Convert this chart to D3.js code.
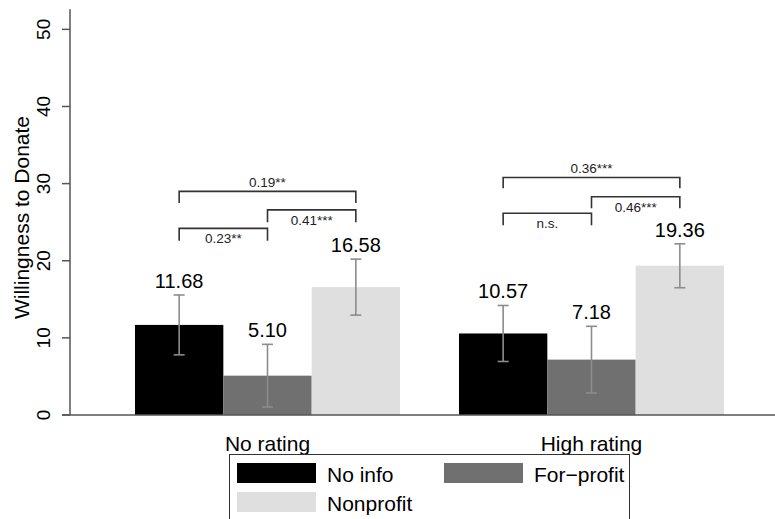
<!DOCTYPE html>
<html>
<head>
<meta charset="utf-8">
<script src="https://cdn.jsdelivr.net/npm/d3@7"></script>
<style>
  body { margin: 0; background: #fff; }
  text { font-family: "Liberation Sans", Arial, sans-serif; }
</style>
</head>
<body>
<div id="chart"></div>
<script>
// data
var groups = ["No rating", "High rating"];
var series = ["No info", "For\u2212profit", "Nonprofit"];
var colors = ["#000000", "#707070", "#dfdfdf"];

var means  = [[11.68, 5.10, 16.58], [10.57, 7.18, 19.36]];
var ciLow  = [[7.80, 1.04, 12.95], [6.94, 2.86, 16.50]];
var ciHigh = [[15.56, 9.16, 20.21], [14.20, 11.50, 22.20]];

var yTicks = [0, 10, 20, 30, 40, 50];

// significance brackets: [group, fromBar, toBar, lineLevel, legLevel, text, textAbove]
var brackets = [
    [0, 0, 2, 29.0, 27.5, "0.19**", true],
    [0, 1, 2, 26.6, 25.0, "0.41***", false],
    [0, 0, 1, 24.2, 22.6, "0.23**", false],
    [1, 0, 2, 30.8, 29.4, "0.36***", true],
    [1, 1, 2, 28.3, 26.8, "0.46***", false],
    [1, 0, 1, 26.15, 24.6, "n.s.", false]
];

var width = 775, height = 519;

var svg = d3.select("#chart").append("svg")
    .attr("width", width)
    .attr("height", height);

var xGroup = d3.scaleBand()
    .domain(d3.range(groups.length))
    .range([70, 789])
    .paddingInner(0.182)
    .paddingOuter(0.2006);

var xBar = d3.scaleBand()
    .domain(d3.range(series.length))
    .range([0, xGroup.bandwidth()]);

var yScale = d3.scaleLinear().domain([0, 52.6]).range([415, 9.3]);

function barCenter(g, s) {
    return xGroup(g) + xBar(s) + xBar.bandwidth() / 2;
}

//////////////////////////////////////////////////////////////////////////////
// bars

var cells = [];
groups.forEach(function(gName, g) {
    series.forEach(function(sName, s) {
        cells.push({g: g, s: s, v: means[g][s], lo: ciLow[g][s], hi: ciHigh[g][s]});
    });
});

svg.append("g")
    .selectAll("rect")
    .data(cells)
    .enter()
    .append("rect")
    .attr("x", function(d) { return xGroup(d.g) + xBar(d.s); })
    .attr("y", function(d) { return yScale(d.v); })
    .attr("width", xBar.bandwidth())
    .attr("height", function(d) { return yScale(0) - yScale(d.v); })
    .attr("fill", function(d) { return colors[d.s]; });

// error bars
var err = svg.append("g")
    .attr("stroke", "#8c8c8c")
    .attr("stroke-width", 1.6);

err.selectAll("line.v")
    .data(cells)
    .enter()
    .append("line")
    .attr("x1", function(d) { return barCenter(d.g, d.s); })
    .attr("x2", function(d) { return barCenter(d.g, d.s); })
    .attr("y1", function(d) { return yScale(d.lo); })
    .attr("y2", function(d) { return yScale(d.hi); });

["lo", "hi"].forEach(function(k) {
    err.selectAll("line.cap-" + k)
        .data(cells)
        .enter()
        .append("line")
        .attr("x1", function(d) { return barCenter(d.g, d.s) - 5.5; })
        .attr("x2", function(d) { return barCenter(d.g, d.s) + 5.5; })
        .attr("y1", function(d) { return yScale(d[k]); })
        .attr("y2", function(d) { return yScale(d[k]); });
});

// value labels
svg.append("g")
    .selectAll("text")
    .data(cells)
    .enter()
    .append("text")
    .attr("x", function(d) { return barCenter(d.g, d.s); })
    .attr("y", function(d) { return yScale(d.hi) - 7; })
    .attr("text-anchor", "middle")
    .attr("font-size", 20)
    .attr("fill", "#000")
    .text(function(d) { return d.v.toFixed(2); });

//////////////////////////////////////////////////////////////////////////////
// brackets

var br = svg.append("g");
brackets.forEach(function(b) {
    var x1 = barCenter(b[0], b[1]), x2 = barCenter(b[0], b[2]);
    var yl = yScale(b[3]), yg = yScale(b[4]);
    br.append("path")
        .attr("d", "M" + x1 + "," + yg + "V" + yl + "H" + x2 + "V" + yg)
        .attr("fill", "none")
        .attr("stroke", "#333")
        .attr("stroke-width", 1.6);
    br.append("text")
        .attr("x", (x1 + x2) / 2)
        .attr("y", b[6] ? yl - 4 : yl + 15)
        .attr("text-anchor", "middle")
        .attr("font-size", 13.5)
        .attr("fill", "#222")
        .text(b[5]);
});

//////////////////////////////////////////////////////////////////////////////
// axes

svg.append("line")
    .attr("x1", 70).attr("x2", 70)
    .attr("y1", yScale(0)).attr("y2", yScale(52.6))
    .attr("stroke", "#555").attr("stroke-width", 1.5);

svg.append("line")
    .attr("x1", 62).attr("x2", width)
    .attr("y1", yScale(0)).attr("y2", yScale(0))
    .attr("stroke", "#555").attr("stroke-width", 1.5);

var yt = svg.append("g").selectAll("g")
    .data(yTicks)
    .enter()
    .append("g");

yt.append("line")
    .attr("x1", 62).attr("x2", 70)
    .attr("y1", function(d) { return yScale(d); })
    .attr("y2", function(d) { return yScale(d); })
    .attr("stroke", "#555").attr("stroke-width", 1.5);

yt.append("text")
    .attr("transform", function(d) { return "translate(50," + yScale(d) + ") rotate(-90)"; })
    .attr("text-anchor", "middle")
    .attr("font-size", 19)
    .text(function(d) { return d; });

svg.append("text")
    .attr("transform", "translate(29,217.5) rotate(-90)")
    .attr("text-anchor", "middle")
    .attr("font-size", 21)
    .text("Willingness to Donate");

svg.append("g")
    .selectAll("text")
    .data(groups)
    .enter()
    .append("text")
    .attr("x", function(d, i) { return xGroup(i) + xGroup.bandwidth() / 2; })
    .attr("y", 451)
    .attr("text-anchor", "middle")
    .attr("font-size", 21)
    .text(function(d) { return d; });

//////////////////////////////////////////////////////////////////////////////
// legend

var legend = svg.append("g");
legend.append("rect")
    .attr("x", 229.5).attr("y", 454.5)
    .attr("width", 400).attr("height", 80)
    .attr("fill", "#fff")
    .attr("stroke", "#333").attr("stroke-width", 1);

var legPos = [[237, 463], [444, 463], [237, 492]];
var items = legend.selectAll("g.item")
    .data(series)
    .enter()
    .append("g")
    .attr("transform", function(d, i) { return "translate(" + legPos[i][0] + "," + legPos[i][1] + ")"; });

items.append("rect")
    .attr("width", 79).attr("height", 20)
    .attr("fill", function(d, i) { return colors[i]; });

items.append("text")
    .attr("x", 90).attr("y", 18.5)
    .attr("font-size", 21)
    .text(function(d) { return d; });
</script>
</body>
</html>
